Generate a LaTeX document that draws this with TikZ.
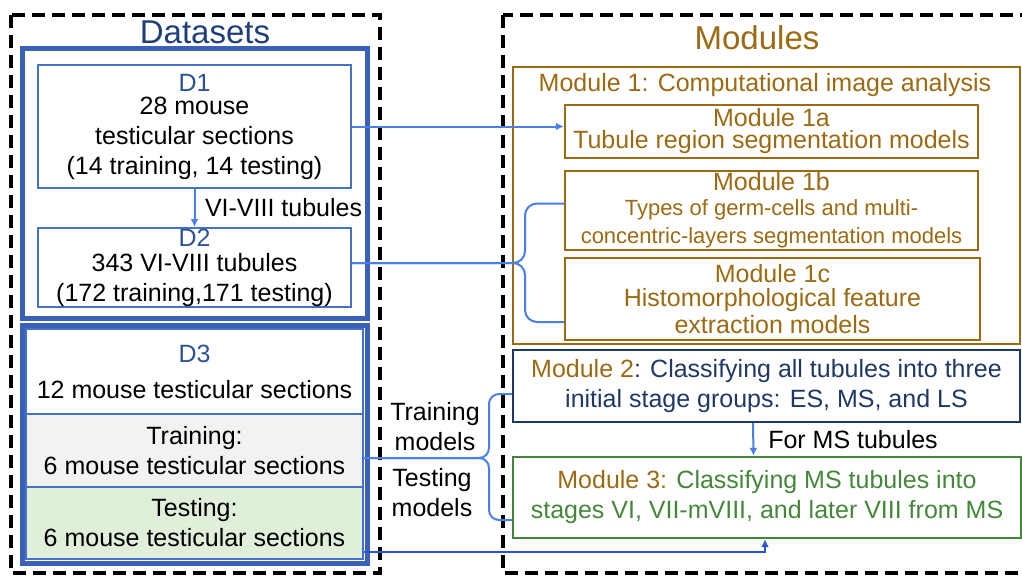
\documentclass[tikz,border=0pt]{standalone}
\usepackage{fontspec}
\setmainfont{Liberation Sans}
\usepackage{tikz}
\usetikzlibrary{arrows.meta}
\usepackage{xcolor}

\definecolor{grpblue}{HTML}{3B60B8}
\definecolor{boxblue}{HTML}{4472C4}
\definecolor{dlabel}{HTML}{2E5395}
\definecolor{navy}{HTML}{203F7A}
\definecolor{linkblue}{HTML}{4A7EE8}
\definecolor{deepblue}{HTML}{2857D6}
\definecolor{mbrown}{HTML}{9B6A12}
\definecolor{mnavy}{HTML}{1F3864}
\definecolor{mgreen}{HTML}{45873A}
\definecolor{cellgray}{HTML}{F2F2F2}
\definecolor{cellgreen}{HTML}{E0EFDA}

\newcommand{\smallline}{\fontsize{11pt}{13pt}\selectfont}

\begin{document}
\begin{tikzpicture}[x=0.5pt, y=-0.5pt,
    font=\fontsize{12.5pt}{15pt}\selectfont,
    frame/.style={draw=black, line width=2pt, dash pattern=on 6.5pt off 3.5pt},
    grp/.style={draw=grpblue, line width=2.5pt},
    dbox/.style={draw=boxblue, line width=1pt, inner sep=0pt, align=center, minimum width=156.5pt},
    cell/.style={draw=boxblue, line width=0.6pt, inner sep=0pt, align=center, minimum width=168.5pt},
    mbox/.style={draw=mbrown, line width=1.2pt, inner sep=0pt, align=center, text=mbrown},
    lbl/.style={inner sep=0pt, align=center},
    link/.style={draw=linkblue, line width=1pt},
    arr/.style={link, -{Latex[length=4pt,width=4pt]}}]
\useasboundingbox (0,0) rectangle (1022,575);

% two dashed frames
\draw[frame] (11,15) rectangle (380,573);
\draw[frame] (503,15) rectangle (1060,573);
\node[text=navy, font=\fontsize{16.5pt}{18pt}\selectfont] (dstitle) at (205,32) {Datasets};
\node[text=mbrown, font=\fontsize{16.5pt}{18pt}\selectfont] (modtitle) at (757,38) {Modules};

% datasets
\draw[grp] (22,48) rectangle (367,318);
\node[dbox, minimum height=61.5pt] (d1) at (194.5,126.5)
    {\textcolor{dlabel}{D1}\\[-3.5pt]28 mouse\\testicular sections\\(14 training, 14 testing)};
\node[dbox, minimum height=39.5pt] (d2) at (194.5,267.5)
    {\textcolor{dlabel}{D2}\\[-2.5pt]343 VI-VIII tubules\\(172 training,171 testing)};
\draw[arr] (d1) -- (d2) node[lbl, midway, right=4.75pt] {VI-VIII tubules};

\node[cell, minimum height=42.5pt] (d3top) at (194.5,371.5)
    {\textcolor{dlabel}{D3}\\[3pt]12 mouse testicular sections};
\node[cell, minimum height=36.5pt, fill=cellgray] (d3train) at (194.5,450.5)
    {Training:\\6 mouse testicular sections};
\node[cell, minimum height=36pt, fill=cellgreen] (d3test) at (194.5,523)
    {Testing:\\6 mouse testicular sections};
\draw[grp] (22,325) rectangle (367,563);

% modules
\node[mbox, minimum width=253.5pt, minimum height=138.5pt] (m1) at (766.5,205.5) {};
\node[text=mbrown] (m1title) at (765,85) {Module 1: Computational image analysis};
\node[mbox, minimum width=206.5pt, minimum height=26.5pt] (m1a) at (771.5,131.5)
    {Module 1a\\[-4pt]Tubule region segmentation models};
\node[mbox, minimum width=206.5pt, minimum height=39.5pt] (m1b) at (771.5,210.5)
    {Module 1b\\[-2.5pt]\smallline Types of germ-cells and multi-\\[-1pt]\smallline concentric-layers segmentation models};
\node[mbox, minimum width=207.5pt, minimum height=41pt] (m1c) at (772.5,299)
    {Module 1c\\[-3pt]Histomorphological feature\\[-1.5pt]extraction models};
\node[mbox, draw=mnavy, text=mnavy, minimum width=253.5pt, minimum height=36pt] (m2) at (766.5,386)
    {\textcolor{mbrown}{Module 2}: Classifying all tubules into three\\initial stage groups: ES, MS, and LS};
\node[mbox, draw=mgreen, text=mgreen, minimum width=254pt, minimum height=40.5pt] (m3) at (767,497.5)
    {\textcolor{mbrown}{Module 3:} Classifying MS tubules into\\stages VI, VII-mVIII, and later VIII from MS};

% links
\coordinate (fork1) at (525,263);
\coordinate (fork2) at (489,458);
\draw[arr] (d1.east) -- (d1.east -| m1a.west);
\draw[link, rounded corners=6pt] (d2.east |- fork1) -- (fork1) |- ([yshift=3.5pt]m1b.west);
\draw[link, rounded corners=6pt] (d2.east |- fork1) -- (fork1) |- ([yshift=-11.5pt]m1c.west);
\draw[link, rounded corners=5pt] (d3train.east |- fork2) -- (fork2) |- ([yshift=-4pt]m2.west);
\draw[link, rounded corners=5pt] (d3train.east |- fork2) -- (fork2) |- ([yshift=-11.25pt]m3.west);
\node[lbl] (trainlbl) at (435,427) {Training\\models};
\node[lbl] (testlbl) at (432,493) {Testing\\models};
\draw[arr] ([xshift=-6.75pt]m2.south) -- ([xshift=-6.75pt]m3.north)
    node[lbl, midway, right=7pt] {For MS tubules};
\draw[arr, draw=deepblue] ([yshift=-14.5pt]d3test.east) -| ([xshift=-1pt]m3.south);
\end{tikzpicture}
\end{document}
